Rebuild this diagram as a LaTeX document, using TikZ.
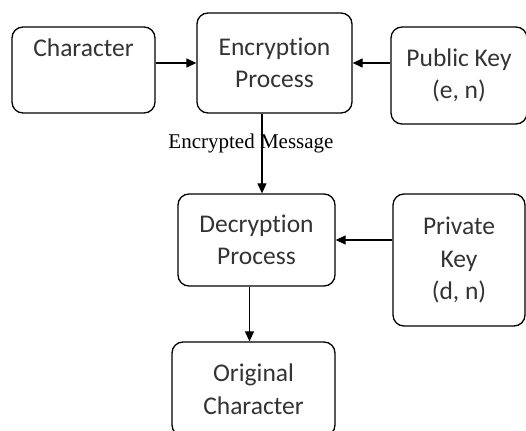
\documentclass[tikz,border=0pt]{standalone}
\usepackage{fontspec}
\setmainfont[Ligatures={NoCommon,NoContextual}]{Carlito}
\newfontfamily\labelfont{Liberation Serif}
\usetikzlibrary{arrows.meta}
\tikzset{
  box/.style={draw, line width=1.3pt, rounded corners=11pt, align=center,
    text=black!80, font=\fontsize{25.5}{32.5}\selectfont, inner sep=0pt},
  flow/.style={line width=1.2pt, -{Triangle[length=10pt,width=9pt]}}
}
\begin{document}
\begin{tikzpicture}[x=1pt, y=-1pt]
  \clip (0,0) rectangle (526,430);

  % Boxes
  \node[box, minimum width=143pt, minimum height=86pt] (char) at (83.5,70) {Character\\[12pt]\mbox{}};
  \node[box, minimum width=155pt, minimum height=100pt] (enc) at (274.5,63) {Encrypt\kern0pt ion\\Process};
  \node[box, minimum width=136pt, minimum height=97pt] (pub) at (459,75.5) {Public Key\\(e, n)};
  \node[box, minimum width=157pt, minimum height=92pt] (dec) at (256.5,240) {Decrypt\kern0pt ion\\Process};
  \node[box, minimum width=132pt, minimum height=132pt] (priv) at (459,260) {Private\\Key\\(d, n)};
  \node[box, minimum width=163pt, minimum height=94pt] (orig) at (253.5,389) {Original\\Character};

  % Beschriftung
  \node[font=\labelfont\fontsize{21}{24}\selectfont] (msg) at (251,143) {Encrypted Message};

  % Pfeile
  \draw[flow] (char.east |- enc.west) -- (enc.west);
  \draw[flow] (pub.west |- enc.east) -- (enc.east);
  \draw[flow] ([xshift=-12.5pt]enc.south) -- ([xshift=-12.5pt]enc.south |- dec.north);
  \draw[flow] (priv.west |- dec.east) -- (dec.east);
  \draw[flow] ([xshift=-7pt]dec.south) -- ([xshift=-7pt]dec.south |- orig.north);
\end{tikzpicture}
\end{document}
